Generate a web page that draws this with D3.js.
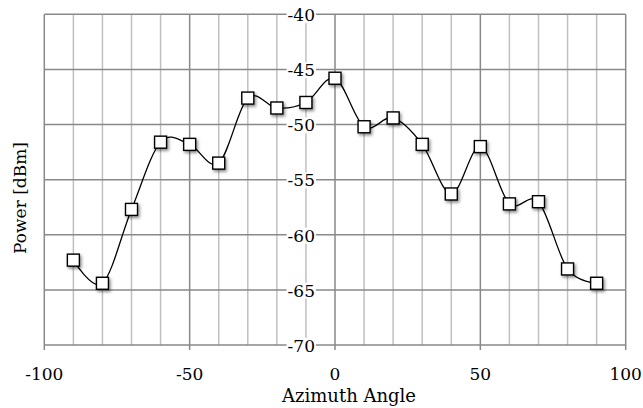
<!DOCTYPE html>
<html>
<head>
<meta charset="utf-8">
<script src="https://cdn.jsdelivr.net/npm/d3@7"></script>
<style>
  body { margin: 0; background: #fff; }
  text { font-family: "DejaVu Serif", serif; }
</style>
</head>
<body>
<svg id="chart" width="643" height="408"></svg>
<script>
// azimuth angle samples and measured power
var angles = [-90, -80, -70, -60, -50, -40, -30, -20, -10, 0, 10, 20, 30, 40, 50, 60, 70, 80, 90];
var power = [-62.3, -64.4, -57.7, -51.6, -51.8, -53.5, -47.6, -48.5, -48.0, -45.8, -50.2, -49.4, -51.8, -56.3, -52.0, -57.2, -57.0, -63.1, -64.4];
var xTicks = [-100, -50, 0, 50, 100];
var yTicks = [-70, -65, -60, -55, -50, -45, -40];

var data = angles.map(function(a, i){ return {x: a, y: power[i]}; });

// plot box (note: "top" is taken by window.top)
var plotL = 44.3, plotR = 625.7, plotT = 14.3, plotB = 345;

var x = d3.scaleLinear().domain([-100, 100]).range([plotL, plotR]);
var y = d3.scaleLinear().domain([-70, -40]).range([plotB, plotT]);

var svg = d3.select("#chart");

// shadow for the markers
var defs = svg.append("defs");
var f = defs.append("filter").attr("id", "shadow")
  .attr("x", "-50%").attr("y", "-50%").attr("width", "200%").attr("height", "200%");
f.append("feDropShadow").attr("dx", 1.5).attr("dy", 2).attr("stdDeviation", 1.5)
  .attr("flood-color", "#000").attr("flood-opacity", 0.45);

// minor vertical gridlines every 10
var minor = d3.range(-90, 100, 10).filter(function(v){ return v % 50 != 0; });
svg.append("g").selectAll("line").data(minor).enter().append("line")
  .attr("x1", function(d){ return x(d); }).attr("x2", function(d){ return x(d); })
  .attr("y1", plotT).attr("y2", plotB)
  .attr("stroke", "#c0c0c0").attr("stroke-width", 1.5);

// major vertical gridlines
svg.append("g").selectAll("line").data(xTicks).enter().append("line")
  .attr("x1", function(d){ return x(d); }).attr("x2", function(d){ return x(d); })
  .attr("y1", plotT).attr("y2", plotB + 5)
  .attr("stroke", "#898989").attr("stroke-width", 1.5);

// horizontal gridlines
svg.append("g").selectAll("line").data(yTicks).enter().append("line")
  .attr("x1", plotL).attr("x2", plotR)
  .attr("y1", function(d){ return y(d); }).attr("y2", function(d){ return y(d); })
  .attr("stroke", "#898989").attr("stroke-width", 1.5);

// y labels sit left of the x=0 axis with a white box behind them
var yl = svg.append("g").selectAll("g").data(yTicks).enter().append("g")
  .attr("transform", function(d){ return "translate(" + (x(0) - 20) + "," + y(d) + ")"; });
yl.append("text")
  .attr("text-anchor", "end").attr("dy", "0.4em")
  .style("font-size", "17px")
  .text(function(d){ return d; });
yl.each(function(){
  var b = d3.select(this).select("text").node().getBBox();
  d3.select(this).insert("rect", "text")
    .attr("x", b.x - 1).attr("y", b.y + 2).attr("width", b.width + 2).attr("height", b.height - 4)
    .attr("fill", "#fff");
});

// x labels
svg.append("g").selectAll("text").data(xTicks).enter().append("text")
  .attr("x", function(d){ return x(d); }).attr("y", 380)
  .attr("text-anchor", "middle")
  .style("font-size", "17px")
  .text(function(d){ return d; });

// titles
svg.append("text").attr("x", 349).attr("y", 402)
  .attr("text-anchor", "middle").style("font-size", "18px")
  .text("Azimuth Angle");
svg.append("text")
  .attr("transform", "translate(26,198) rotate(-90)")
  .attr("text-anchor", "middle").style("font-size", "17px")
  .text("Power [dBm]");

// smoothed line
var line = d3.line()
  .x(function(d){ return x(d.x); })
  .y(function(d){ return y(d.y); })
  .curve(d3.curveCardinal.tension(0));
svg.append("path").datum(data)
  .attr("d", line).attr("fill", "none")
  .attr("stroke", "#000").attr("stroke-width", 1.3);

// markers
svg.append("g").selectAll("rect").data(data).enter().append("rect")
  .attr("x", function(d){ return x(d.x) - 6; })
  .attr("y", function(d){ return y(d.y) - 6; })
  .attr("width", 12).attr("height", 12)
  .attr("fill", "#fff").attr("stroke", "#000").attr("stroke-width", 1.4)
  .attr("filter", "url(#shadow)");
</script>
</body>
</html>
